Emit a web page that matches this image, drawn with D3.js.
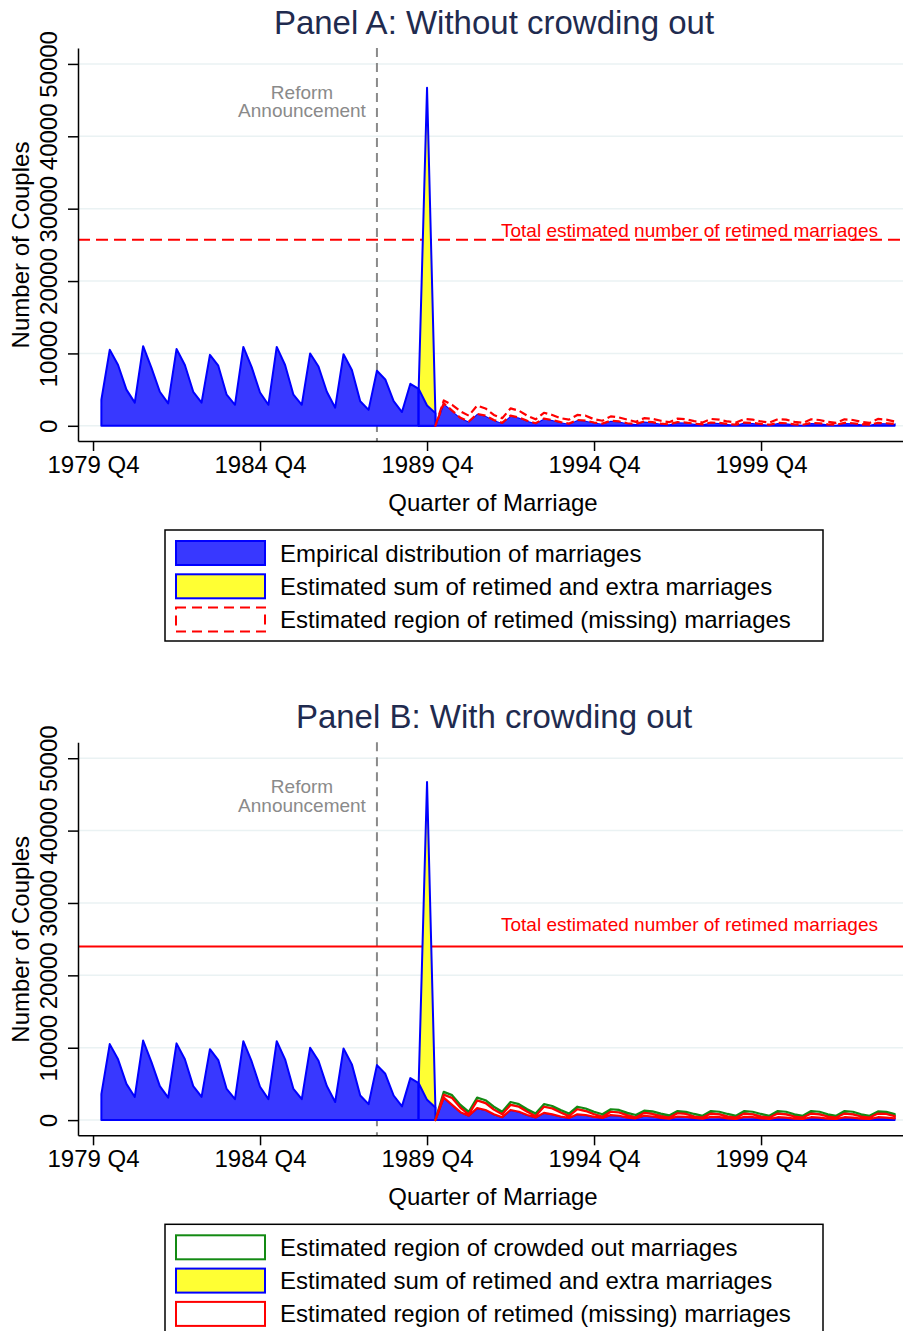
<!DOCTYPE html>
<html lang="en">
<head>
<meta charset="utf-8">
<title>Retimed marriages</title>
<script src="https://cdn.jsdelivr.net/npm/d3@7"></script>
<style>
body { margin: 0; background: white; }
svg text { font-family: "Liberation Sans", Arial, Helvetica, sans-serif; }
</style>
</head>
<body>
<script>

// Quarter index: 0 = 1979 Q4, 1 = 1980 Q1 ... 96 = 2003 Q4
var tickQuarters = [0, 20, 40, 60, 80];
var tickLabels = ["1979 Q4", "1984 Q4", "1989 Q4", "1994 Q4", "1999 Q4"];
var yTicks = [0, 10000, 20000, 30000, 40000, 50000];

var firstQuarter = 1;     // 1980 Q1
var reformQuarter = 34;   // 1988 Q2
var windowStart = 39;     // 1989 Q3
var windowEnd = 41;       // 1990 Q1

// Empirical number of marriages, 1980 Q1 - 2003 Q4
var empirical = [
  3600, 10500, 8400, 5000,
  3200, 11000, 8000, 4700,
  3100, 10600, 8400, 4700,
  3200, 9800, 8300, 4300,
  2900, 10900, 8100, 4600,
  2900, 10900, 8400, 4300,
  2900, 10000, 8200, 4700,
  2500, 9900, 7700, 3400,
  2200, 7600, 6400, 3400,
  1900, 5800, 5100, 46700,
  1750, 3100, 2100, 1100,
  600, 1650, 1400, 800,
  400, 1400, 1150, 700,
  350, 1000, 800, 500,
  300, 800, 700, 450,
  300, 700, 600, 350,
  250, 600, 500, 300,
  200, 500, 450, 300,
  200, 450, 400, 250,
  150, 450, 400, 250,
  150, 400, 350, 200,
  150, 400, 350, 200,
  150, 400, 350, 200,
  150, 400, 350, 250
];

// Counterfactual under the spike, 1989 Q3 - 1990 Q1
var retimedBase = [5100, 2800, 1750];

// Upper edge of the missing region, 1990 Q2 - 2003 Q4 (Panel A)
var missingTopA = [
  3500, 2900, 2000, 1400,
  2800, 2400, 1500, 1050,
  2400, 2100, 1400, 900,
  1800, 1500, 1050, 850,
  1500, 1400, 900, 700,
  1300, 1150, 850, 550,
  1050, 950, 700, 500,
  1000, 900, 650, 450,
  950, 850, 600, 450,
  950, 850, 600, 450,
  900, 850, 550, 400,
  900, 800, 550, 400,
  900, 800, 550, 400,
  950, 850, 600
];

// Upper edge of the missing region, 1990 Q2 - 2003 Q4 (Panel B)
var missingTopB = [
  3500, 3050, 1700, 800,
  2700, 2350, 1450, 800,
  2100, 1850, 1150, 550,
  1850, 1600, 1050, 550,
  1500, 1250, 800, 450,
  1150, 1050, 650, 350,
  1000, 850, 550, 350,
  950, 850, 500, 350,
  900, 800, 500, 350,
  900, 800, 500, 350,
  900, 800, 500, 350,
  900, 800, 500, 350,
  900, 800, 500, 350,
  900, 850, 550
];

// Upper edge of the crowded out region, 1990 Q2 - 2003 Q4 (Panel B)
var crowdTopB = [
  3900, 3450, 2100, 1150,
  3100, 2750, 1850, 1150,
  2500, 2200, 1500, 900,
  2200, 1950, 1400, 900,
  1850, 1600, 1150, 800,
  1500, 1400, 1000, 700,
  1300, 1200, 900, 650,
  1250, 1150, 850, 600,
  1250, 1150, 850, 600,
  1250, 1150, 850, 600,
  1250, 1150, 800, 600,
  1250, 1150, 800, 600,
  1250, 1150, 800, 600,
  1200, 1150, 850
];

var totalRetimedA = 25700;
var totalRetimedB = 24000;

var legendA = ["Empirical distribution of marriages",
               "Estimated sum of retimed and extra marriages",
               "Estimated region of retimed (missing) marriages"];
var legendB = ["Estimated region of crowded out marriages",
               "Estimated sum of retimed and extra marriages",
               "Estimated region of retimed (missing) marriages"];

var blueFill = "#3838ff", blueLine = "#0000ff", yellowFill = "#ffff33";
var red = "#ff0000", green = "#138a13", grey = "#8a8a8a", navy = "#1f2b4f";

var w = 903, h = 1331;

var svg = d3.select("body")
  .append("svg")
  .attr("width", w)
  .attr("height", h);

var xScale = d3.scaleLinear().domain([-1.8, 97]).range([78, 903]);
var yScale = d3.scaleLinear().domain([-2100, 52200]).range([441, 48]);

var area = d3.area()
  .x(function(d) { return xScale(d.q); })
  .y0(function(d) { return yScale(d.lo); })
  .y1(function(d) { return yScale(d.hi); });

function emp(q) { return empirical[q - firstQuarter]; }

function range(a, b) { return d3.range(a, b + 1); }

// Region above the empirical line after the window, closed at the baseline in 1990 Q1
function postRegion(top) {
  var rows = [{q: windowEnd, lo: 0, hi: 0}];
  top.forEach(function(v, i) {
    var q = windowEnd + 1 + i;
    rows.push({q: q, lo: emp(q), hi: v});
  });
  return rows;
}

function drawPanel(offset, title, p) {
  var g = svg.append("g").attr("transform", "translate(0," + offset + ")");

  // gridlines
  g.selectAll(".grid")
    .data(yTicks)
    .enter()
    .append("line")
    .attr("x1", 78).attr("x2", 903)
    .attr("y1", function(d) { return yScale(d); })
    .attr("y2", function(d) { return yScale(d); })
    .attr("stroke", "#eaf2f3")
    .attr("stroke-width", 1.5);

  // reform announcement line
  g.append("line")
    .attr("x1", xScale(reformQuarter)).attr("x2", xScale(reformQuarter))
    .attr("y1", 48).attr("y2", 441)
    .attr("stroke", grey)
    .attr("stroke-width", 2)
    .attr("stroke-dasharray", "9,6");

  // total retimed line
  g.append("line")
    .attr("x1", 78).attr("x2", 903)
    .attr("y1", yScale(p.total)).attr("y2", yScale(p.total))
    .attr("stroke", red)
    .attr("stroke-width", 2)
    .attr("stroke-dasharray", p.dashed ? "12,6" : null);

  // empirical distribution before the window
  var pre = range(firstQuarter, windowStart).map(function(q) {
    return {q: q, lo: 0, hi: emp(q)};
  });
  g.append("path")
    .datum(pre)
    .attr("d", area)
    .attr("fill", blueFill)
    .attr("stroke", blueLine)
    .attr("stroke-width", 2)
    .attr("stroke-linejoin", "round");

  // spike: retimed + extra marriages
  var spike = range(windowStart, windowEnd).map(function(q) {
    return {q: q, lo: 0, hi: emp(q)};
  });
  g.append("path")
    .datum(spike)
    .attr("d", area)
    .attr("fill", yellowFill)
    .attr("stroke", blueLine)
    .attr("stroke-width", 2)
    .attr("stroke-linejoin", "round");

  var base = range(windowStart, windowEnd).map(function(q, i) {
    return {q: q, lo: 0, hi: retimedBase[i]};
  });
  g.append("path")
    .datum(base)
    .attr("d", area)
    .attr("fill", blueFill)
    .attr("stroke", blueLine)
    .attr("stroke-width", 2)
    .attr("stroke-linejoin", "round");

  // empirical distribution after the window
  var post = postRegion(p.missing).map(function(d) {
    return {q: d.q, lo: 0, hi: d.lo};
  });
  g.append("path")
    .datum(post)
    .attr("d", area)
    .attr("fill", blueFill)
    .attr("stroke", blueLine)
    .attr("stroke-width", 2)
    .attr("stroke-linejoin", "round");

  // crowded out region (Panel B)
  if (p.crowd) {
    var crowd = postRegion(p.crowd).map(function(d, i) {
      return {q: d.q, lo: i === 0 ? 0 : p.missing[i - 1], hi: d.hi};
    });
    g.append("path")
      .datum(crowd)
      .attr("d", area)
      .attr("fill", "white")
      .attr("stroke", green)
      .attr("stroke-width", 2.2)
      .attr("stroke-linejoin", "round");
  }

  // retimed (missing) region
  g.append("path")
    .datum(postRegion(p.missing))
    .attr("d", area)
    .attr("fill", "white")
    .attr("stroke", red)
    .attr("stroke-width", 2.2)
    .attr("stroke-linejoin", "round")
    .attr("stroke-dasharray", p.dashed ? "8,4" : null);

  // annotations
  g.append("text")
    .attr("x", 302).attr("y", yScale(45200))
    .attr("text-anchor", "middle")
    .attr("font-size", 19)
    .attr("fill", grey)
    .text("Reform");
  g.append("text")
    .attr("x", 302).attr("y", yScale(42600))
    .attr("text-anchor", "middle")
    .attr("font-size", 19)
    .attr("fill", grey)
    .text("Announcement");

  g.append("text")
    .attr("x", 878).attr("y", yScale(26100))
    .attr("text-anchor", "end")
    .attr("font-size", 19)
    .attr("fill", red)
    .text("Total estimated number of retimed marriages");

  // axes
  var yAxis = d3.axisLeft(yScale)
    .tickValues(yTicks)
    .tickSize(10)
    .tickSizeOuter(0)
    .tickFormat(d3.format("d"));

  var yg = g.append("g")
    .attr("transform", "translate(78,0)")
    .call(yAxis);
  yg.selectAll("text")
    .attr("x", 0)
    .attr("y", -21)
    .attr("dy", null)
    .attr("transform", "rotate(-90)")
    .style("text-anchor", "middle");

  var xAxis = d3.axisBottom(xScale)
    .tickValues(tickQuarters)
    .tickSize(10)
    .tickSizeOuter(0)
    .tickPadding(5)
    .tickFormat(function(d, i) { return tickLabels[i]; });

  var xg = g.append("g")
    .attr("transform", "translate(0,441)")
    .call(xAxis);

  [yg, xg].forEach(function(a) {
    a.selectAll("path, line").attr("stroke", "#000").attr("stroke-width", 1.5);
    a.selectAll("text").attr("font-size", 24).attr("fill", "#000")
      .attr("font-family", "Liberation Sans, Arial, sans-serif");
  });

  // titles
  g.append("text")
    .attr("x", 494).attr("y", 34)
    .attr("text-anchor", "middle")
    .attr("font-size", 33)
    .attr("fill", navy)
    .text(title);

  g.append("text")
    .attr("x", 493).attr("y", 511)
    .attr("text-anchor", "middle")
    .attr("font-size", 24)
    .text("Quarter of Marriage");

  g.append("text")
    .attr("transform", "translate(29,245) rotate(-90)")
    .attr("text-anchor", "middle")
    .attr("font-size", 24)
    .text("Number of Couples");

  // legend
  g.append("rect")
    .attr("x", 165).attr("y", 530)
    .attr("width", 658).attr("height", 111)
    .attr("fill", "white")
    .attr("stroke", "#000")
    .attr("stroke-width", 1.5);

  var keys = g.selectAll(".key")
    .data(p.keys)
    .enter()
    .append("g")
    .attr("transform", function(d, i) { return "translate(0," + (541 + i * 33.3) + ")"; });

  keys.append("rect")
    .attr("x", 176).attr("y", 0)
    .attr("width", 89).attr("height", 24)
    .attr("fill", function(d) { return d.fill; })
    .attr("stroke", function(d) { return d.stroke; })
    .attr("stroke-width", 2)
    .attr("stroke-dasharray", function(d) { return d.dash; });

  keys.append("text")
    .attr("x", 280).attr("y", 20.5)
    .attr("font-size", 24)
    .text(function(d) { return d.label; });
}

drawPanel(0, "Panel A: Without crowding out", {
  total: totalRetimedA,
  dashed: true,
  missing: missingTopA,
  crowd: null,
  keys: [
    {label: legendA[0], fill: blueFill, stroke: blueLine, dash: null},
    {label: legendA[1], fill: yellowFill, stroke: blueLine, dash: null},
    {label: legendA[2], fill: "white", stroke: red, dash: "10,6"}
  ]
});

drawPanel(694.3, "Panel B: With crowding out", {
  total: totalRetimedB,
  dashed: false,
  missing: missingTopB,
  crowd: crowdTopB,
  keys: [
    {label: legendB[0], fill: "white", stroke: green, dash: null},
    {label: legendB[1], fill: yellowFill, stroke: blueLine, dash: null},
    {label: legendB[2], fill: "white", stroke: red, dash: null}
  ]
});

</script>
</body>
</html>
